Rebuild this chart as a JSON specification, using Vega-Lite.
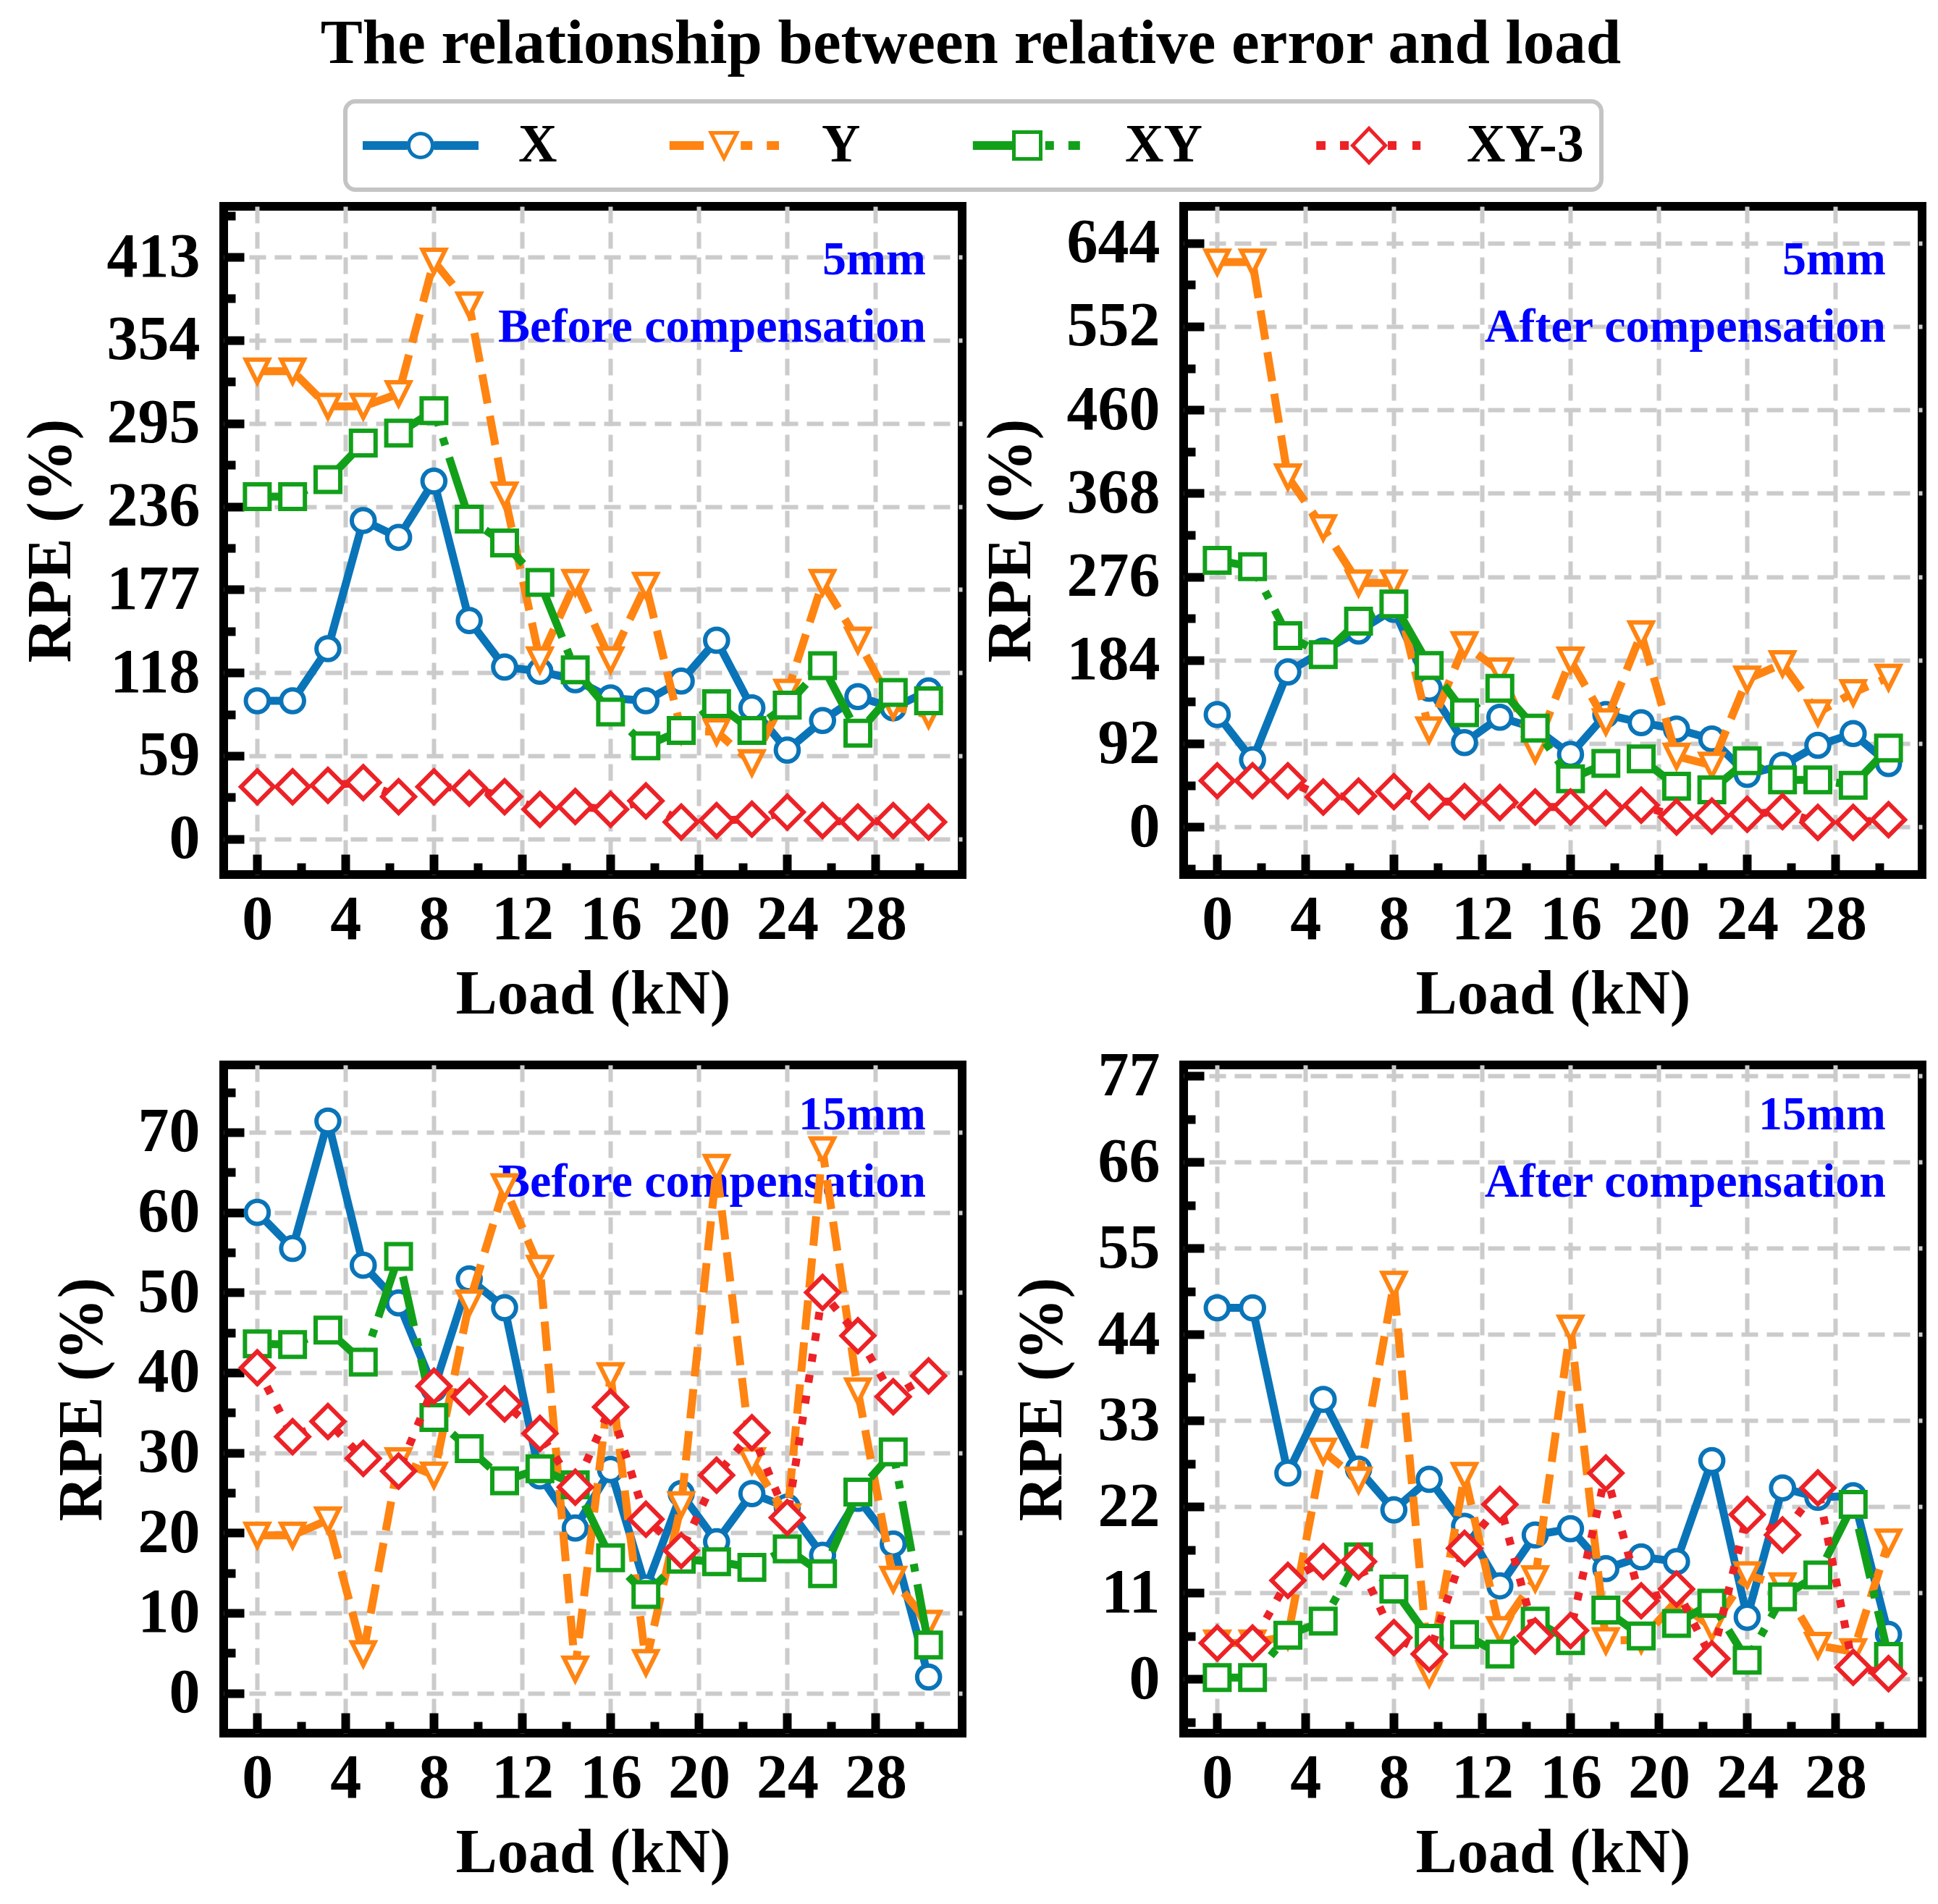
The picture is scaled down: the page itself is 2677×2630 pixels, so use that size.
{
  "$schema": "https://vega.github.io/schema/vega-lite/v6.json",
  "background": "white",
  "padding": {"left": 21, "top": 17, "right": 10, "bottom": 5},
  "title": {"text": "The relationship between relative error and load", "font": "Liberation Serif", "fontSize": 87, "fontWeight": "bold", "color": "black", "anchor": "middle", "offset": 5},
  "datasets": {
    "p1": [
      {"s":"X","load":0,"rpe":98},{"s":"X","load":1.6,"rpe":98},{"s":"X","load":3.2,"rpe":135},{"s":"X","load":4.8,"rpe":226},{"s":"X","load":6.4,"rpe":214},{"s":"X","load":8,"rpe":254},{"s":"X","load":9.6,"rpe":155},{"s":"X","load":11.2,"rpe":122},{"s":"X","load":12.8,"rpe":119},{"s":"X","load":14.4,"rpe":113},{"s":"X","load":16,"rpe":100},{"s":"X","load":17.6,"rpe":98},{"s":"X","load":19.2,"rpe":112},{"s":"X","load":20.8,"rpe":141},{"s":"X","load":22.4,"rpe":93},{"s":"X","load":24,"rpe":63},{"s":"X","load":25.6,"rpe":84},{"s":"X","load":27.2,"rpe":101},{"s":"X","load":28.8,"rpe":93},{"s":"X","load":30.4,"rpe":105},
      {"s":"Y","load":0,"rpe":332},{"s":"Y","load":1.6,"rpe":332},{"s":"Y","load":3.2,"rpe":307},{"s":"Y","load":4.8,"rpe":307},{"s":"Y","load":6.4,"rpe":316},{"s":"Y","load":8,"rpe":410},{"s":"Y","load":9.6,"rpe":379},{"s":"Y","load":11.2,"rpe":244},{"s":"Y","load":12.8,"rpe":127},{"s":"Y","load":14.4,"rpe":182},{"s":"Y","load":16,"rpe":127},{"s":"Y","load":17.6,"rpe":180},{"s":"Y","load":19.2,"rpe":77},{"s":"Y","load":20.8,"rpe":76},{"s":"Y","load":22.4,"rpe":54},{"s":"Y","load":24,"rpe":104},{"s":"Y","load":25.6,"rpe":182},{"s":"Y","load":27.2,"rpe":141},{"s":"Y","load":28.8,"rpe":94},{"s":"Y","load":30.4,"rpe":88},
      {"s":"XY","load":0,"rpe":243},{"s":"XY","load":1.6,"rpe":243},{"s":"XY","load":3.2,"rpe":255},{"s":"XY","load":4.8,"rpe":281},{"s":"XY","load":6.4,"rpe":288},{"s":"XY","load":8,"rpe":304},{"s":"XY","load":9.6,"rpe":227},{"s":"XY","load":11.2,"rpe":210},{"s":"XY","load":12.8,"rpe":182},{"s":"XY","load":14.4,"rpe":120},{"s":"XY","load":16,"rpe":90},{"s":"XY","load":17.6,"rpe":66},{"s":"XY","load":19.2,"rpe":77},{"s":"XY","load":20.8,"rpe":96},{"s":"XY","load":22.4,"rpe":77},{"s":"XY","load":24,"rpe":95},{"s":"XY","load":25.6,"rpe":123},{"s":"XY","load":27.2,"rpe":75},{"s":"XY","load":28.8,"rpe":104},{"s":"XY","load":30.4,"rpe":98},
      {"s":"XY-3","load":0,"rpe":37},{"s":"XY-3","load":1.6,"rpe":37},{"s":"XY-3","load":3.2,"rpe":38},{"s":"XY-3","load":4.8,"rpe":40},{"s":"XY-3","load":6.4,"rpe":30},{"s":"XY-3","load":8,"rpe":37},{"s":"XY-3","load":9.6,"rpe":36},{"s":"XY-3","load":11.2,"rpe":30},{"s":"XY-3","load":12.8,"rpe":21},{"s":"XY-3","load":14.4,"rpe":23},{"s":"XY-3","load":16,"rpe":21},{"s":"XY-3","load":17.6,"rpe":27},{"s":"XY-3","load":19.2,"rpe":12},{"s":"XY-3","load":20.8,"rpe":13},{"s":"XY-3","load":22.4,"rpe":14},{"s":"XY-3","load":24,"rpe":19},{"s":"XY-3","load":25.6,"rpe":13},{"s":"XY-3","load":27.2,"rpe":12},{"s":"XY-3","load":28.8,"rpe":13},{"s":"XY-3","load":30.4,"rpe":12}
    ],
    "p2": [
      {"s":"X","load":0,"rpe":124},{"s":"X","load":1.6,"rpe":74},{"s":"X","load":3.2,"rpe":171},{"s":"X","load":4.8,"rpe":194},{"s":"X","load":6.4,"rpe":216},{"s":"X","load":8,"rpe":240},{"s":"X","load":9.6,"rpe":153},{"s":"X","load":11.2,"rpe":93},{"s":"X","load":12.8,"rpe":121},{"s":"X","load":14.4,"rpe":109},{"s":"X","load":16,"rpe":80},{"s":"X","load":17.6,"rpe":124},{"s":"X","load":19.2,"rpe":115},{"s":"X","load":20.8,"rpe":108},{"s":"X","load":22.4,"rpe":97},{"s":"X","load":24,"rpe":58},{"s":"X","load":25.6,"rpe":68},{"s":"X","load":27.2,"rpe":90},{"s":"X","load":28.8,"rpe":103},{"s":"X","load":30.4,"rpe":70},
      {"s":"Y","load":0,"rpe":623},{"s":"Y","load":1.6,"rpe":623},{"s":"Y","load":3.2,"rpe":386},{"s":"Y","load":4.8,"rpe":330},{"s":"Y","load":6.4,"rpe":269},{"s":"Y","load":8,"rpe":269},{"s":"Y","load":9.6,"rpe":107},{"s":"Y","load":11.2,"rpe":201},{"s":"Y","load":12.8,"rpe":172},{"s":"Y","load":14.4,"rpe":85},{"s":"Y","load":16,"rpe":184},{"s":"Y","load":17.6,"rpe":116},{"s":"Y","load":19.2,"rpe":213},{"s":"Y","load":20.8,"rpe":78},{"s":"Y","load":22.4,"rpe":68},{"s":"Y","load":24,"rpe":163},{"s":"Y","load":25.6,"rpe":180},{"s":"Y","load":27.2,"rpe":126},{"s":"Y","load":28.8,"rpe":148},{"s":"Y","load":30.4,"rpe":165},
      {"s":"XY","load":0,"rpe":294},{"s":"XY","load":1.6,"rpe":287},{"s":"XY","load":3.2,"rpe":211},{"s":"XY","load":4.8,"rpe":190},{"s":"XY","load":6.4,"rpe":227},{"s":"XY","load":8,"rpe":246},{"s":"XY","load":9.6,"rpe":178},{"s":"XY","load":11.2,"rpe":126},{"s":"XY","load":12.8,"rpe":153},{"s":"XY","load":14.4,"rpe":109},{"s":"XY","load":16,"rpe":53},{"s":"XY","load":17.6,"rpe":70},{"s":"XY","load":19.2,"rpe":75},{"s":"XY","load":20.8,"rpe":45},{"s":"XY","load":22.4,"rpe":41},{"s":"XY","load":24,"rpe":73},{"s":"XY","load":25.6,"rpe":52},{"s":"XY","load":27.2,"rpe":52},{"s":"XY","load":28.8,"rpe":46},{"s":"XY","load":30.4,"rpe":87},
      {"s":"XY-3","load":0,"rpe":51},{"s":"XY-3","load":1.6,"rpe":51},{"s":"XY-3","load":3.2,"rpe":51},{"s":"XY-3","load":4.8,"rpe":33},{"s":"XY-3","load":6.4,"rpe":34},{"s":"XY-3","load":8,"rpe":39},{"s":"XY-3","load":9.6,"rpe":28},{"s":"XY-3","load":11.2,"rpe":28},{"s":"XY-3","load":12.8,"rpe":27},{"s":"XY-3","load":14.4,"rpe":22},{"s":"XY-3","load":16,"rpe":22},{"s":"XY-3","load":17.6,"rpe":21},{"s":"XY-3","load":19.2,"rpe":24},{"s":"XY-3","load":20.8,"rpe":11},{"s":"XY-3","load":22.4,"rpe":12},{"s":"XY-3","load":24,"rpe":14},{"s":"XY-3","load":25.6,"rpe":17},{"s":"XY-3","load":27.2,"rpe":5},{"s":"XY-3","load":28.8,"rpe":5},{"s":"XY-3","load":30.4,"rpe":8}
    ],
    "p3": [
      {"s":"X","load":0,"rpe":60},{"s":"X","load":1.6,"rpe":55.5},{"s":"X","load":3.2,"rpe":71.4},{"s":"X","load":4.8,"rpe":53.4},{"s":"X","load":6.4,"rpe":48.7},{"s":"X","load":8,"rpe":38},{"s":"X","load":9.6,"rpe":51.7},{"s":"X","load":11.2,"rpe":48.1},{"s":"X","load":12.8,"rpe":27.1},{"s":"X","load":14.4,"rpe":20.6},{"s":"X","load":16,"rpe":27.9},{"s":"X","load":17.6,"rpe":13.1},{"s":"X","load":19.2,"rpe":24.9},{"s":"X","load":20.8,"rpe":18.9},{"s":"X","load":22.4,"rpe":24.9},{"s":"X","load":24,"rpe":23.2},{"s":"X","load":25.6,"rpe":17.2},{"s":"X","load":27.2,"rpe":24.3},{"s":"X","load":28.8,"rpe":18.6},{"s":"X","load":30.4,"rpe":2},
      {"s":"Y","load":0,"rpe":19.7},{"s":"Y","load":1.6,"rpe":19.7},{"s":"Y","load":3.2,"rpe":21.6},{"s":"Y","load":4.8,"rpe":4.9},{"s":"Y","load":6.4,"rpe":29},{"s":"Y","load":8,"rpe":27.2},{"s":"Y","load":9.6,"rpe":48.7},{"s":"Y","load":11.2,"rpe":63.2},{"s":"Y","load":12.8,"rpe":53},{"s":"Y","load":14.4,"rpe":3},{"s":"Y","load":16,"rpe":39.6},{"s":"Y","load":17.6,"rpe":3.8},{"s":"Y","load":19.2,"rpe":23.5},{"s":"Y","load":20.8,"rpe":65.6},{"s":"Y","load":22.4,"rpe":29},{"s":"Y","load":24,"rpe":22},{"s":"Y","load":25.6,"rpe":67.8},{"s":"Y","load":27.2,"rpe":37.7},{"s":"Y","load":28.8,"rpe":14.2},{"s":"Y","load":30.4,"rpe":8.7},
      {"s":"XY","load":0,"rpe":43.6},{"s":"XY","load":1.6,"rpe":43.5},{"s":"XY","load":3.2,"rpe":45.3},{"s":"XY","load":4.8,"rpe":41.3},{"s":"XY","load":6.4,"rpe":54.5},{"s":"XY","load":8,"rpe":34.4},{"s":"XY","load":9.6,"rpe":30.5},{"s":"XY","load":11.2,"rpe":26.5},{"s":"XY","load":12.8,"rpe":28},{"s":"XY","load":14.4,"rpe":26},{"s":"XY","load":16,"rpe":16.9},{"s":"XY","load":17.6,"rpe":12.3},{"s":"XY","load":19.2,"rpe":16.7},{"s":"XY","load":20.8,"rpe":16.4},{"s":"XY","load":22.4,"rpe":15.7},{"s":"XY","load":24,"rpe":18},{"s":"XY","load":25.6,"rpe":14.9},{"s":"XY","load":27.2,"rpe":25.1},{"s":"XY","load":28.8,"rpe":30.1},{"s":"XY","load":30.4,"rpe":6},
      {"s":"XY-3","load":0,"rpe":40.6},{"s":"XY-3","load":1.6,"rpe":32},{"s":"XY-3","load":3.2,"rpe":33.9},{"s":"XY-3","load":4.8,"rpe":29.3},{"s":"XY-3","load":6.4,"rpe":27.7},{"s":"XY-3","load":8,"rpe":38.3},{"s":"XY-3","load":9.6,"rpe":37},{"s":"XY-3","load":11.2,"rpe":36.1},{"s":"XY-3","load":12.8,"rpe":32.4},{"s":"XY-3","load":14.4,"rpe":25.7},{"s":"XY-3","load":16,"rpe":35.7},{"s":"XY-3","load":17.6,"rpe":21.7},{"s":"XY-3","load":19.2,"rpe":17.8},{"s":"XY-3","load":20.8,"rpe":27.2},{"s":"XY-3","load":22.4,"rpe":32.5},{"s":"XY-3","load":24,"rpe":21.9},{"s":"XY-3","load":25.6,"rpe":50},{"s":"XY-3","load":27.2,"rpe":44.6},{"s":"XY-3","load":28.8,"rpe":37},{"s":"XY-3","load":30.4,"rpe":39.6}
    ],
    "p4": [
      {"s":"X","load":0,"rpe":47.4},{"s":"X","load":1.6,"rpe":47.4},{"s":"X","load":3.2,"rpe":26.3},{"s":"X","load":4.8,"rpe":35.7},{"s":"X","load":6.4,"rpe":26.8},{"s":"X","load":8,"rpe":21.6},{"s":"X","load":9.6,"rpe":25.5},{"s":"X","load":11.2,"rpe":19.5},{"s":"X","load":12.8,"rpe":11.9},{"s":"X","load":14.4,"rpe":18.4},{"s":"X","load":16,"rpe":19.2},{"s":"X","load":17.6,"rpe":14.1},{"s":"X","load":19.2,"rpe":15.6},{"s":"X","load":20.8,"rpe":15},{"s":"X","load":22.4,"rpe":27.9},{"s":"X","load":24,"rpe":7.9},{"s":"X","load":25.6,"rpe":24.4},{"s":"X","load":27.2,"rpe":23.2},{"s":"X","load":28.8,"rpe":23.4},{"s":"X","load":30.4,"rpe":5.7},
      {"s":"Y","load":0,"rpe":4.6},{"s":"Y","load":1.6,"rpe":4.6},{"s":"Y","load":3.2,"rpe":5.5},{"s":"Y","load":4.8,"rpe":29.1},{"s":"Y","load":6.4,"rpe":25.4},{"s":"Y","load":8,"rpe":50.4},{"s":"Y","load":9.6,"rpe":0.7},{"s":"Y","load":11.2,"rpe":26},{"s":"Y","load":12.8,"rpe":6.3},{"s":"Y","load":14.4,"rpe":12.8},{"s":"Y","load":16,"rpe":44.8},{"s":"Y","load":17.6,"rpe":4.9},{"s":"Y","load":19.2,"rpe":5},{"s":"Y","load":20.8,"rpe":10},{"s":"Y","load":22.4,"rpe":6.6},{"s":"Y","load":24,"rpe":13.3},{"s":"Y","load":25.6,"rpe":11.9},{"s":"Y","load":27.2,"rpe":4.3},{"s":"Y","load":28.8,"rpe":3.5},{"s":"Y","load":30.4,"rpe":17.5},
      {"s":"XY","load":0,"rpe":0.2},{"s":"XY","load":1.6,"rpe":0.2},{"s":"XY","load":3.2,"rpe":5.6},{"s":"XY","load":4.8,"rpe":7.4},{"s":"XY","load":6.4,"rpe":15.6},{"s":"XY","load":8,"rpe":11.5},{"s":"XY","load":9.6,"rpe":5.2},{"s":"XY","load":11.2,"rpe":5.7},{"s":"XY","load":12.8,"rpe":3.2},{"s":"XY","load":14.4,"rpe":7.4},{"s":"XY","load":16,"rpe":4.9},{"s":"XY","load":17.6,"rpe":8.8},{"s":"XY","load":19.2,"rpe":5.5},{"s":"XY","load":20.8,"rpe":7.1},{"s":"XY","load":22.4,"rpe":9.7},{"s":"XY","load":24,"rpe":2.4},{"s":"XY","load":25.6,"rpe":10.5},{"s":"XY","load":27.2,"rpe":13.3},{"s":"XY","load":28.8,"rpe":22.3},{"s":"XY","load":30.4,"rpe":2.9},
      {"s":"XY-3","load":0,"rpe":4.6},{"s":"XY-3","load":1.6,"rpe":4.6},{"s":"XY-3","load":3.2,"rpe":12.6},{"s":"XY-3","load":4.8,"rpe":15},{"s":"XY-3","load":6.4,"rpe":15},{"s":"XY-3","load":8,"rpe":5.3},{"s":"XY-3","load":9.6,"rpe":3.2},{"s":"XY-3","load":11.2,"rpe":16.7},{"s":"XY-3","load":12.8,"rpe":22.3},{"s":"XY-3","load":14.4,"rpe":5.5},{"s":"XY-3","load":16,"rpe":6.2},{"s":"XY-3","load":17.6,"rpe":26.3},{"s":"XY-3","load":19.2,"rpe":10},{"s":"XY-3","load":20.8,"rpe":11.5},{"s":"XY-3","load":22.4,"rpe":2.6},{"s":"XY-3","load":24,"rpe":21},{"s":"XY-3","load":25.6,"rpe":18.4},{"s":"XY-3","load":27.2,"rpe":24.4},{"s":"XY-3","load":28.8,"rpe":1.5},{"s":"XY-3","load":30.4,"rpe":0.7}
    ]
  },
  "vconcat": [
    {
      "width": 1, "height": 1,
      "view": {"stroke": null, "fill": "white"},
      "data": {"values": []},
      "mark": {"type": "point", "filled": true, "opacity": 1, "size": 25600},
      "encoding": {
        "shape": {"field": "s", "type": "nominal",
          "scale": {"domain": ["X", "Y", "XY", "XY-3"], "range": [
            "M-1,-0.075H-0.23V0.075H-1Z M0.23,-0.075H1V0.075H0.23Z M0.2375,0A0.2375,0.2375 0 1,1 -0.2375,0A0.2375,0.2375 0 1,1 0.2375,0Z M0.175,0A0.175,0.175 0 1,0 -0.175,0A0.175,0.175 0 1,0 0.175,0Z",
            "M-0.94,-0.075H-0.35V0.075H-0.94Z M0.29,-0.075H0.49V0.075H0.29Z M0.74,-0.075H0.95V0.075H0.74Z M-0.275,-0.25L0.275,-0.25L0,0.2875Z M-0.173,-0.187L0,0.15L0.173,-0.187Z",
            "M-0.94,-0.075H-0.26V0.075H-0.94Z M0.31,-0.075H0.46V0.075H0.31Z M0.71,-0.075H0.91V0.075H0.71Z M-0.2625,-0.2625H0.2625V0.2625H-0.2625Z M-0.2,-0.2V0.2H0.2V-0.2Z",
            "M-0.91,-0.075H-0.75V0.075H-0.91Z M-0.5,-0.075H-0.35V0.075H-0.5Z M0.325,-0.075H0.475V0.075H0.325Z M0.75,-0.075H0.89V0.075H0.75Z M0,-0.34L0.325,0L0,0.34L-0.325,0Z M0,-0.25L-0.24,0L0,0.25L0.24,0Z"
          ]},
          "legend": {"title": null, "orient": "none", "legendX": 168, "legendY": 30, "direction": "horizontal", "columns": 4}
        },
        "color": {"field": "s", "type": "nominal",
          "scale": {"domain": ["X", "Y", "XY", "XY-3"], "range": ["#0a74b8", "#ff8411", "#12a01a", "#ec2227"]},
          "legend": {"title": null, "orient": "none", "legendX": 168, "legendY": 30, "direction": "horizontal", "columns": 4}
        }
      }
    },
    {
      "concat": [
        {
          "width": 1020, "height": 923,
          "data": {"name": "p1"},
          "encoding": {
            "x": {"field": "load", "type": "quantitative", "scale": {"domain": [-1.52, 31.92], "nice": false, "zero": false},
              "axis": {"title": "Load (kN)", "values": [0,2,4,6,8,10,12,14,16,18,20,22,24,26,28,30],
                "labelExpr": "datum.value % 4 === 0 ? format(datum.value, 'd') : ''",
                "tickSize": {"condition": {"test": "datum.value % 4 !== 0", "value": -16}, "value": -28},
                "gridOpacity": {"condition": {"test": "datum.value % 4 !== 0", "value": 0}, "value": 1}}},
            "y": {"field": "rpe", "type": "quantitative", "scale": {"domain": [-25.3, 449], "nice": false, "zero": false},
              "axis": {"title": "RPE (%)", "values": [0,29.5,59,88.5,118,147.5,177,206.5,236,265.5,295,324.5,354,383.5,413,442.5],
                "labelExpr": "datum.value % 59 === 0 ? format(datum.value, 'd') : ''",
                "tickSize": {"condition": {"test": "datum.value % 59 !== 0", "value": -16}, "value": -28},
                "gridOpacity": {"condition": {"test": "datum.value % 59 !== 0", "value": 0}, "value": 1}}}
          },
          "layer": [
            {"transform": [{"filter": "datum.s === 'X' && datum.load === 0"}], "mark": {"type": "text", "align": "right", "baseline": "alphabetic", "font": "Liberation Serif", "fontWeight": "bold", "fontSize": 66, "color": "#0000ff", "lineHeight": 93, "lineBreak": "\n"},
             "encoding": {"x": {"datum": 30.28, "type": "quantitative"}, "y": {"datum": 400.7, "type": "quantitative"}, "text": {"value": "5mm\nBefore compensation"}}},
            {"transform": [{"filter": "datum.s === 'X'"}], "mark": {"type": "line", "color": "#0a74b8", "strokeWidth": 11, "strokeJoin": "round", "point": {"shape": "circle", "size": 1000, "filled": false, "fill": "white", "stroke": "#0a74b8", "strokeWidth": 6, "opacity": 1}}},
            {"transform": [{"filter": "datum.s === 'Y'"}], "mark": {"type": "line", "color": "#ff8411", "strokeWidth": 11, "strokeJoin": "round", "strokeDash": [40.7, 17.6], "point": {"shape": "M-1,-1L1,-1L0,1Z", "size": 1000, "filled": false, "fill": "white", "stroke": "#ff8411", "strokeWidth": 6, "opacity": 1}}},
            {"transform": [{"filter": "datum.s === 'XY'"}], "mark": {"type": "line", "color": "#12a01a", "strokeWidth": 11, "strokeJoin": "round", "strokeDash": [70.4, 17.6, 11, 17.6], "point": {"shape": "square", "size": 1156, "filled": false, "fill": "white", "stroke": "#12a01a", "strokeWidth": 6, "opacity": 1}}},
            {"transform": [{"filter": "datum.s === 'XY-3'"}], "mark": {"type": "line", "color": "#ec2227", "strokeWidth": 11, "strokeJoin": "round", "strokeDash": [11, 18.2], "point": {"shape": "diamond", "size": 2025, "filled": false, "fill": "white", "stroke": "#ec2227", "strokeWidth": 6, "opacity": 1}}}
          ]
        },
        {
          "width": 1020, "height": 923,
          "data": {"name": "p2"},
          "encoding": {
            "x": {"field": "load", "type": "quantitative", "scale": {"domain": [-1.52, 31.92], "nice": false, "zero": false},
              "axis": {"title": "Load (kN)", "values": [0,2,4,6,8,10,12,14,16,18,20,22,24,26,28,30],
                "labelExpr": "datum.value % 4 === 0 ? format(datum.value, 'd') : ''",
                "tickSize": {"condition": {"test": "datum.value % 4 !== 0", "value": -16}, "value": -28},
                "gridOpacity": {"condition": {"test": "datum.value % 4 !== 0", "value": 0}, "value": 1}}},
            "y": {"field": "rpe", "type": "quantitative", "scale": {"domain": [-52.5, 684.5], "nice": false, "zero": false},
              "axis": {"title": "RPE (%)", "values": [-46,0,46,92,138,184,230,276,322,368,414,460,506,552,598,644],
                "labelExpr": "datum.value % 92 === 0 ? format(datum.value, 'd') : ''",
                "tickSize": {"condition": {"test": "datum.value % 92 !== 0", "value": -16}, "value": -28},
                "gridOpacity": {"condition": {"test": "datum.value % 92 !== 0", "value": 0}, "value": 1}}}
          },
          "layer": [
            {"transform": [{"filter": "datum.s === 'X' && datum.load === 0"}], "mark": {"type": "text", "align": "right", "baseline": "alphabetic", "font": "Liberation Serif", "fontWeight": "bold", "fontSize": 66, "color": "#0000ff", "lineHeight": 93, "lineBreak": "\n"},
             "encoding": {"x": {"datum": 30.28, "type": "quantitative"}, "y": {"datum": 609.5, "type": "quantitative"}, "text": {"value": "5mm\nAfter compensation"}}},
            {"transform": [{"filter": "datum.s === 'X'"}], "mark": {"type": "line", "color": "#0a74b8", "strokeWidth": 11, "strokeJoin": "round", "point": {"shape": "circle", "size": 1000, "filled": false, "fill": "white", "stroke": "#0a74b8", "strokeWidth": 6, "opacity": 1}}},
            {"transform": [{"filter": "datum.s === 'Y'"}], "mark": {"type": "line", "color": "#ff8411", "strokeWidth": 11, "strokeJoin": "round", "strokeDash": [40.7, 17.6], "point": {"shape": "M-1,-1L1,-1L0,1Z", "size": 1000, "filled": false, "fill": "white", "stroke": "#ff8411", "strokeWidth": 6, "opacity": 1}}},
            {"transform": [{"filter": "datum.s === 'XY'"}], "mark": {"type": "line", "color": "#12a01a", "strokeWidth": 11, "strokeJoin": "round", "strokeDash": [70.4, 17.6, 11, 17.6], "point": {"shape": "square", "size": 1156, "filled": false, "fill": "white", "stroke": "#12a01a", "strokeWidth": 6, "opacity": 1}}},
            {"transform": [{"filter": "datum.s === 'XY-3'"}], "mark": {"type": "line", "color": "#ec2227", "strokeWidth": 11, "strokeJoin": "round", "strokeDash": [11, 18.2], "point": {"shape": "diamond", "size": 2025, "filled": false, "fill": "white", "stroke": "#ec2227", "strokeWidth": 6, "opacity": 1}}}
          ]
        },
        {
          "width": 1020, "height": 923,
          "data": {"name": "p3"},
          "encoding": {
            "x": {"field": "load", "type": "quantitative", "scale": {"domain": [-1.52, 31.92], "nice": false, "zero": false},
              "axis": {"title": "Load (kN)", "values": [0,2,4,6,8,10,12,14,16,18,20,22,24,26,28,30],
                "labelExpr": "datum.value % 4 === 0 ? format(datum.value, 'd') : ''",
                "tickSize": {"condition": {"test": "datum.value % 4 !== 0", "value": -16}, "value": -28},
                "gridOpacity": {"condition": {"test": "datum.value % 4 !== 0", "value": 0}, "value": 1}}},
            "y": {"field": "rpe", "type": "quantitative", "scale": {"domain": [-5, 78.4], "nice": false, "zero": false},
              "axis": {"title": "RPE (%)", "values": [0,5,10,15,20,25,30,35,40,45,50,55,60,65,70,75],
                "labelExpr": "datum.value % 10 === 0 ? format(datum.value, 'd') : ''",
                "tickSize": {"condition": {"test": "datum.value % 10 !== 0", "value": -16}, "value": -28},
                "gridOpacity": {"condition": {"test": "datum.value % 10 !== 0", "value": 0}, "value": 1}}}
          },
          "layer": [
            {"transform": [{"filter": "datum.s === 'X' && datum.load === 0"}], "mark": {"type": "text", "align": "right", "baseline": "alphabetic", "font": "Liberation Serif", "fontWeight": "bold", "fontSize": 66, "color": "#0000ff", "lineHeight": 93, "lineBreak": "\n"},
             "encoding": {"x": {"datum": 30.28, "type": "quantitative"}, "y": {"datum": 70.4, "type": "quantitative"}, "text": {"value": "15mm\nBefore compensation"}}},
            {"transform": [{"filter": "datum.s === 'X'"}], "mark": {"type": "line", "color": "#0a74b8", "strokeWidth": 11, "strokeJoin": "round", "point": {"shape": "circle", "size": 1000, "filled": false, "fill": "white", "stroke": "#0a74b8", "strokeWidth": 6, "opacity": 1}}},
            {"transform": [{"filter": "datum.s === 'Y'"}], "mark": {"type": "line", "color": "#ff8411", "strokeWidth": 11, "strokeJoin": "round", "strokeDash": [40.7, 17.6], "point": {"shape": "M-1,-1L1,-1L0,1Z", "size": 1000, "filled": false, "fill": "white", "stroke": "#ff8411", "strokeWidth": 6, "opacity": 1}}},
            {"transform": [{"filter": "datum.s === 'XY'"}], "mark": {"type": "line", "color": "#12a01a", "strokeWidth": 11, "strokeJoin": "round", "strokeDash": [70.4, 17.6, 11, 17.6], "point": {"shape": "square", "size": 1156, "filled": false, "fill": "white", "stroke": "#12a01a", "strokeWidth": 6, "opacity": 1}}},
            {"transform": [{"filter": "datum.s === 'XY-3'"}], "mark": {"type": "line", "color": "#ec2227", "strokeWidth": 11, "strokeJoin": "round", "strokeDash": [11, 18.2], "point": {"shape": "diamond", "size": 2025, "filled": false, "fill": "white", "stroke": "#ec2227", "strokeWidth": 6, "opacity": 1}}}
          ]
        },
        {
          "width": 1020, "height": 923,
          "data": {"name": "p4"},
          "encoding": {
            "x": {"field": "load", "type": "quantitative", "scale": {"domain": [-1.52, 31.92], "nice": false, "zero": false},
              "axis": {"title": "Load (kN)", "values": [0,2,4,6,8,10,12,14,16,18,20,22,24,26,28,30],
                "labelExpr": "datum.value % 4 === 0 ? format(datum.value, 'd') : ''",
                "tickSize": {"condition": {"test": "datum.value % 4 !== 0", "value": -16}, "value": -28},
                "gridOpacity": {"condition": {"test": "datum.value % 4 !== 0", "value": 0}, "value": 1}}},
            "y": {"field": "rpe", "type": "quantitative", "scale": {"domain": [-6.9, 78.4], "nice": false, "zero": false},
              "axis": {"title": "RPE (%)", "values": [-5.5,0,5.5,11,16.5,22,27.5,33,38.5,44,49.5,55,60.5,66,71.5,77],
                "labelExpr": "datum.value % 11 === 0 ? format(datum.value, 'd') : ''",
                "tickSize": {"condition": {"test": "datum.value % 11 !== 0", "value": -16}, "value": -28},
                "gridOpacity": {"condition": {"test": "datum.value % 11 !== 0", "value": 0}, "value": 1}}}
          },
          "layer": [
            {"transform": [{"filter": "datum.s === 'X' && datum.load === 0"}], "mark": {"type": "text", "align": "right", "baseline": "alphabetic", "font": "Liberation Serif", "fontWeight": "bold", "fontSize": 66, "color": "#0000ff", "lineHeight": 93, "lineBreak": "\n"},
             "encoding": {"x": {"datum": 30.28, "type": "quantitative"}, "y": {"datum": 70.2, "type": "quantitative"}, "text": {"value": "15mm\nAfter compensation"}}},
            {"transform": [{"filter": "datum.s === 'X'"}], "mark": {"type": "line", "color": "#0a74b8", "strokeWidth": 11, "strokeJoin": "round", "point": {"shape": "circle", "size": 1000, "filled": false, "fill": "white", "stroke": "#0a74b8", "strokeWidth": 6, "opacity": 1}}},
            {"transform": [{"filter": "datum.s === 'Y'"}], "mark": {"type": "line", "color": "#ff8411", "strokeWidth": 11, "strokeJoin": "round", "strokeDash": [40.7, 17.6], "point": {"shape": "M-1,-1L1,-1L0,1Z", "size": 1000, "filled": false, "fill": "white", "stroke": "#ff8411", "strokeWidth": 6, "opacity": 1}}},
            {"transform": [{"filter": "datum.s === 'XY'"}], "mark": {"type": "line", "color": "#12a01a", "strokeWidth": 11, "strokeJoin": "round", "strokeDash": [70.4, 17.6, 11, 17.6], "point": {"shape": "square", "size": 1156, "filled": false, "fill": "white", "stroke": "#12a01a", "strokeWidth": 6, "opacity": 1}}},
            {"transform": [{"filter": "datum.s === 'XY-3'"}], "mark": {"type": "line", "color": "#ec2227", "strokeWidth": 11, "strokeJoin": "round", "strokeDash": [11, 18.2], "point": {"shape": "diamond", "size": 2025, "filled": false, "fill": "white", "stroke": "#ec2227", "strokeWidth": 6, "opacity": 1}}}
          ]
        }
      ],
      "columns": 2,
      "bounds": "flush",
      "spacing": {"column": 306, "row": 263}
    }
  ],
  "spacing": -17,
  "resolve": {"scale": {"color": "independent", "shape": "independent"}, "legend": {"color": "independent", "shape": "independent"}},
  "config": {
    "view": {"stroke": "black", "strokeWidth": 12},
    "axis": {
      "domain": false,
      "labelFont": "Liberation Serif", "labelFontWeight": "bold", "labelFontSize": 86, "labelColor": "black",
      "titleFont": "Liberation Serif", "titleFontWeight": "bold", "titleFontSize": 86, "titleColor": "black",
      "tickColor": "black", "tickWidth": 12,
      "grid": true, "gridColor": "#cbcbcb", "gridDash": [23, 12], "gridWidth": 6,
      "labelOverlap": false, "labelFlush": false, "labelBound": false
    },
    "axisX": {"labelPadding": 48, "titlePadding": 6},
    "axisY": {"labelPadding": 61, "titlePadding": 33},
    "legend": {
      "labelFont": "Liberation Serif", "labelFontWeight": "bold", "labelFontSize": 74, "labelColor": "black", "labelLimit": 600,
      "labelOffset": 55, "columnPadding": 150, "padding": 24, "clipHeight": 74,
      "symbolSize": 25600, "symbolStrokeWidth": 0,
      "strokeColor": "#c4c4c4", "strokeWidth": 6, "cornerRadius": 14, "fillColor": "white"
    }
  }
}
